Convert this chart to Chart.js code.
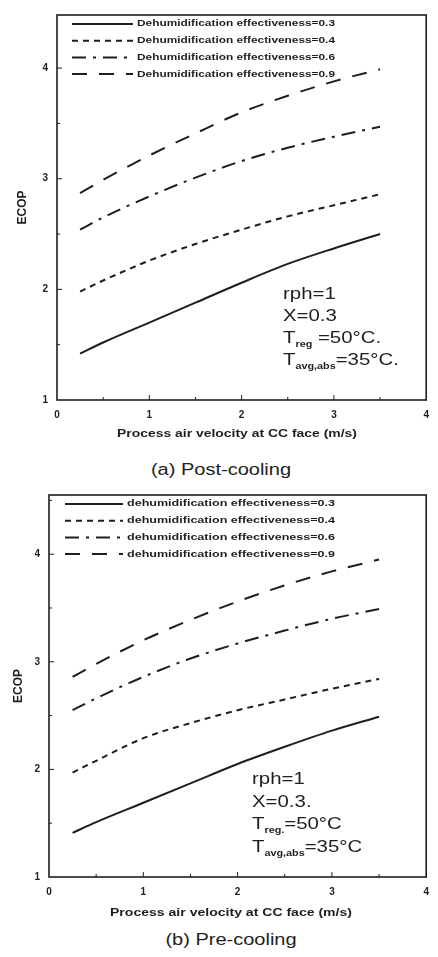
<!DOCTYPE html>
<html>
<head>
<meta charset="utf-8">
<script src="https://cdn.jsdelivr.net/npm/chart.js@4.4.1/dist/chart.umd.min.js"></script>
<style>
    body { margin: 0; background: #fff; width: 438px; height: 957px; position: relative; overflow: hidden; font-family: "Liberation Sans", Arial, sans-serif; }
    .box { position: absolute; left: 0; width: 438px; }
    .cap { position: absolute; width: 438px; text-align: center; font-size: 16px; line-height: 16px; color: #222; transform: scaleX(1.25); }
</style>
</head>
<body>
<div class="box" style="top:0;height:448px"><canvas id="postChart"></canvas></div>
<div class="cap" style="top:462px;left:2px">(a) Post-cooling</div>
<div class="box" style="top:480px;height:446px"><canvas id="preChart"></canvas></div>
<div class="cap" style="top:932px;left:12px">(b) Pre-cooling</div>

<script>
// process air velocity at the cooling coil face (m/s)
const velocity = [0.25, 0.5, 1, 1.5, 2, 2.5, 3, 3.5];

// ECOP, post-cooling
const postEff03 = [1.42, 1.52, 1.70, 1.88, 2.06, 2.23, 2.37, 2.50];
const postEff04 = [1.98, 2.08, 2.26, 2.41, 2.54, 2.66, 2.76, 2.86];
const postEff06 = [2.54, 2.65, 2.84, 3.01, 3.16, 3.28, 3.38, 3.47];
const postEff09 = [2.87, 2.99, 3.21, 3.41, 3.60, 3.75, 3.88, 3.99];

// ECOP, pre-cooling
const preEff03 = [1.41, 1.51, 1.69, 1.87, 2.05, 2.21, 2.36, 2.49];
const preEff04 = [1.97, 2.08, 2.29, 2.43, 2.55, 2.65, 2.75, 2.84];
const preEff06 = [2.55, 2.66, 2.86, 3.03, 3.17, 3.29, 3.40, 3.49];
const preEff09 = [2.86, 2.98, 3.20, 3.39, 3.56, 3.71, 3.84, 3.95];

const xTicks = [0, 1, 2, 3, 4];
const yTicks = [1, 2, 3, 4];

const postLabels = [
    'Dehumidification effectiveness=0.3',
    'Dehumidification effectiveness=0.4',
    'Dehumidification effectiveness=0.6',
    'Dehumidification effectiveness=0.9',
];
const preLabels = [
    'dehumidification effectiveness=0.3',
    'dehumidification effectiveness=0.4',
    'dehumidification effectiveness=0.6',
    'dehumidification effectiveness=0.9',
];
const xTitle = 'Process air velocity at CC face (m/s)';

const dashes = [[], [6, 5], [14, 7, 3, 7], [15, 12]];
const ink = '#1e1e1e';

Chart.defaults.font.family = '"Liberation Sans", Arial, sans-serif';
Chart.defaults.color = ink;
Chart.defaults.animation = false;

// draws text squeezed or stretched to a given width
function fitText(ctx, text, x, y, width) {
    const w = ctx.measureText(text).width;
    ctx.save();
    ctx.translate(x, y);
    ctx.scale(width / w, 1);
    ctx.fillText(text, 0, 0);
    ctx.restore();
}

// box around the plot with small inward ticks every 0.5, plus the x title
const frame = {
    id: 'frame',
    afterDatasetsDraw(chart, args, opts) {
        const { ctx, chartArea: a, scales: { x, y } } = chart;
        ctx.save();
        ctx.strokeStyle = ink;
        ctx.lineWidth = 1.6;
        ctx.strokeRect(a.left, a.top, a.right - a.left, a.bottom - a.top);
        ctx.lineWidth = 1;
        ctx.beginPath();
        for (let v = 0.5; v < 4; v += 0.5) {
            const px = x.getPixelForValue(v);
            ctx.moveTo(px, a.bottom);
            ctx.lineTo(px, a.bottom - (v % 1 ? 3 : 5));
        }
        for (let v = 1.5; v < y.max; v += 0.5) {
            const py = y.getPixelForValue(v);
            ctx.moveTo(a.left, py);
            ctx.lineTo(a.left + (v % 1 ? 3 : 5), py);
        }
        ctx.stroke();

        ctx.fillStyle = ink;
        ctx.font = 'bold 10px "Liberation Sans", Arial, sans-serif';
        ctx.textBaseline = 'middle';
        fitText(ctx, xTitle, opts.titleX, a.bottom + opts.titleY, opts.titleWidth);
        ctx.restore();
    }
};

// legend drawn inside the top-left corner of the plot
const insideLegend = {
    id: 'insideLegend',
    afterDatasetsDraw(chart, args, opts) {
        const { ctx, chartArea: a } = chart;
        ctx.save();
        chart.data.datasets.forEach((ds, i) => {
            const y = a.top + opts.top + i * opts.step;
            ctx.beginPath();
            ctx.setLineDash(ds.borderDash);
            ctx.lineWidth = ds.borderWidth;
            ctx.strokeStyle = ds.borderColor;
            ctx.moveTo(a.left + opts.lineStart, y);
            ctx.lineTo(a.left + opts.lineEnd, y);
            ctx.stroke();
            ctx.setLineDash([]);
            ctx.font = 'bold 9px "Liberation Sans", Arial, sans-serif';
            ctx.fillStyle = ink;
            ctx.textBaseline = 'middle';
            fitText(ctx, ds.label, a.left + opts.textStart, y, opts.textWidth);
        });
        ctx.restore();
    }
};

// operating conditions written in the lower right of the plot
const notes = {
    id: 'notes',
    afterDraw(chart, args, opts) {
        const { ctx, chartArea: a } = chart;
        ctx.save();
        ctx.fillStyle = ink;
        ctx.translate(a.left + opts.x, a.top + opts.y);
        ctx.scale(1.2, 1);
        opts.lines.forEach((line, i) => {
            let x = 0;
            line.forEach(part => {
                ctx.font = part.sub
                    ? 'bold 9px "Liberation Sans", Arial, sans-serif'
                    : '17px "Liberation Sans", Arial, sans-serif';
                ctx.fillText(part.t, x, i * opts.step + (part.sub ? 4 : 0));
                x += ctx.measureText(part.t).width;
            });
        });
        ctx.restore();
    }
};

function series(labels, values) {
    return values.map((data, i) => ({
        label: labels[i],
        data: velocity.map((v, j) => ({ x: v, y: data[j] })),
        borderColor: ink,
        borderWidth: 2,
        borderDash: dashes[i],
        pointRadius: 0,
        cubicInterpolationMode: 'monotone',
    }));
}

function scales(yMax, axisWidth, axisHeight, yTitlePad) {
    return {
        x: {
            type: 'linear', min: xTicks[0], max: xTicks[xTicks.length - 1],
            afterBuildTicks: s => { s.ticks = xTicks.map(v => ({ value: v })); },
            afterFit: s => { s.height = axisHeight; },
            ticks: { font: { size: 10, weight: 'bold' }, padding: 9, maxRotation: 0 },
            grid: { display: false, drawTicks: false },
            border: { display: false }
        },
        y: {
            type: 'linear', min: 1, max: yMax,
            afterBuildTicks: s => { s.ticks = yTicks.map(v => ({ value: v })); },
            afterFit: s => { s.width = axisWidth; },
            ticks: { font: { size: 10, weight: 'bold' }, padding: 9 },
            grid: { display: false, drawTicks: false },
            border: { display: false },
            title: { display: true, text: 'ECOP', font: { size: 12, weight: 'bold' }, padding: { top: yTitlePad, bottom: 0 } }
        }
    };
}

new Chart(document.getElementById('postChart'), {
    type: 'line',
    data: { datasets: series(postLabels, [postEff03, postEff04, postEff06, postEff09]) },
    options: {
        responsive: true,
        maintainAspectRatio: false,
        layout: { padding: { top: 15, right: 1, left: 0, bottom: 0 } },
        scales: scales(4.48, 57, 48, 15),
        plugins: {
            legend: { display: false },
            tooltip: { enabled: false },
            frame: { titleX: 117, titleY: 34, titleWidth: 240 },
            insideLegend: { top: 9, step: 16.7, lineStart: 15, lineEnd: 76, textStart: 80, textWidth: 198 },
            notes: {
                x: 226, y: 284, step: 22,
                lines: [
                    [{ t: 'rph=1' }],
                    [{ t: 'X=0.3' }],
                    [{ t: 'T' }, { t: 'reg', sub: true }, { t: ' =50°C.' }],
                    [{ t: 'T' }, { t: 'avg,abs', sub: true }, { t: '=35°C.' }],
                ]
            }
        }
    },
    plugins: [frame, insideLegend, notes]
});

new Chart(document.getElementById('preChart'), {
    type: 'line',
    data: { datasets: series(preLabels, [preEff03, preEff04, preEff06, preEff09]) },
    options: {
        responsive: true,
        maintainAspectRatio: false,
        layout: { padding: { top: 14, right: 9, left: 0, bottom: 0 } },
        scales: scales(4.55, 49, 49, 11),
        plugins: {
            legend: { display: false },
            tooltip: { enabled: false },
            frame: { titleX: 110, titleY: 36, titleWidth: 242 },
            insideLegend: { top: 9, step: 16.7, lineStart: 16, lineEnd: 74, textStart: 78, textWidth: 208 },
            notes: {
                x: 203, y: 289, step: 22.5,
                lines: [
                    [{ t: 'rph=1' }],
                    [{ t: 'X=0.3.' }],
                    [{ t: 'T' }, { t: 'reg.', sub: true }, { t: '=50°C' }],
                    [{ t: 'T' }, { t: 'avg,abs', sub: true }, { t: '=35°C' }],
                ]
            }
        }
    },
    plugins: [frame, insideLegend, notes]
});
</script>
</body>
</html>
